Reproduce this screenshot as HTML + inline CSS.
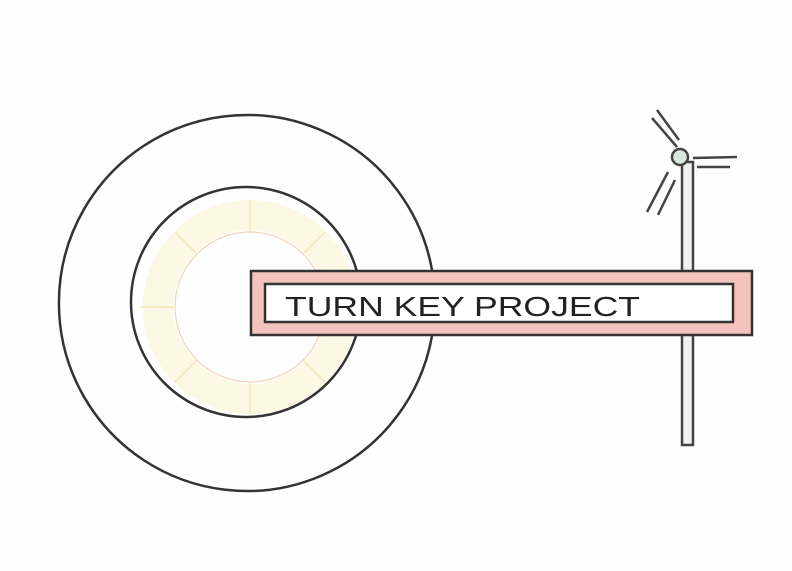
<!DOCTYPE html>
<html><head><meta charset="utf-8"><style>
html,body{margin:0;padding:0;background:#fff;}
svg{display:block;}
</style></head><body>
<svg width="792" height="571" viewBox="0 0 792 571" xmlns="http://www.w3.org/2000/svg">
<rect width="792" height="571" fill="#fefefe"/>
<g fill="none">
  <circle cx="250" cy="307" r="92" stroke="#fcf4d2" stroke-width="30" opacity="0.6"/>
  <circle cx="250" cy="307" r="75" stroke="#f2d4b8" stroke-width="1.2"/>
  <g stroke="#f5e2b0" stroke-width="1.2">
    <line x1="250" y1="232" x2="250" y2="200"/><line x1="250" y1="382" x2="250" y2="414"/>
    <line x1="175" y1="307" x2="140" y2="307"/><line x1="303" y1="254" x2="325" y2="232"/>
    <line x1="197" y1="254" x2="175" y2="232"/><line x1="197" y1="360" x2="175" y2="382"/>
    <line x1="303" y1="360" x2="325" y2="382"/>
  </g>
</g>
<circle cx="246" cy="302" r="115" fill="none" stroke="#333" stroke-width="2.5"/>
<path d="M 432 270 A 188 188 0 1 0 432 336" fill="none" stroke="#333" stroke-width="2.5"/>
<g stroke="#444" stroke-width="2.5" fill="none">
  <rect x="682" y="162" width="11" height="283" fill="#eef3ee"/>
  <circle cx="680" cy="157" r="8" fill="#d8e8dc"/>
  <line x1="693" y1="158" x2="737" y2="157"/><line x1="697" y1="167" x2="730" y2="167"/>
  <line x1="652" y1="118" x2="677" y2="147"/><line x1="657" y1="110" x2="679" y2="140"/>
  <line x1="647" y1="212" x2="668" y2="172"/><line x1="658" y1="215" x2="675" y2="180"/>
</g>
<g>
  <rect x="251" y="271" width="501" height="64" fill="#f4c4bc" stroke="#333" stroke-width="2.5"/>
  <rect x="265" y="284" width="468" height="38" fill="#fff" stroke="#333" stroke-width="2.5"/>
  <text x="285" y="316" font-family="Liberation Sans, sans-serif" font-size="28" fill="#222" textLength="355" lengthAdjust="spacingAndGlyphs">TURN  KEY  PROJECT</text>
</g>
</svg>
</body></html>
